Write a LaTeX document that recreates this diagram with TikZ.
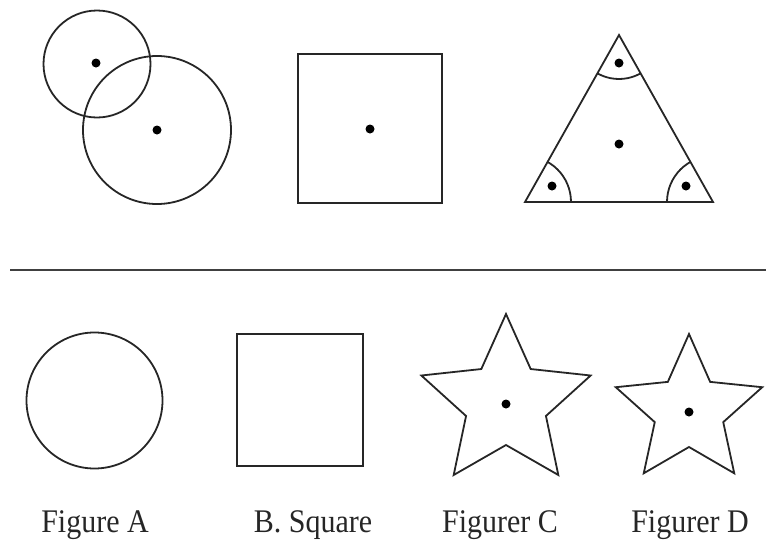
\documentclass[tikz,border=0pt]{standalone}
\usepackage{fontspec}
\setmainfont{Liberation Serif}
\newcommand{\tallertext}[1]{\scalebox{1}[1.1]{#1}}
\begin{document}
\begin{tikzpicture}[x=1pt,y=-1pt,
  outline/.style={draw=black!85,line width=1.8pt,line join=miter},
  dotmark/.style={fill=black},
  lbl/.style={font=\fontsize{30}{36}\selectfont,text=black!85,anchor=base,inner sep=0pt}]
\useasboundingbox (0,0) rectangle (766,544);
% ---- top row ----
\draw[outline] (97,64) circle (53.5pt);
\draw[outline] (157,130) circle (74pt);
\fill[dotmark] (96,63) circle (4.5pt);
\fill[dotmark] (157,130) circle (4.5pt);
\draw[outline] (298,54) rectangle (442,203);
\fill[dotmark] (370,129) circle (4.5pt);
\coordinate (TA) at (619,35);
\coordinate (TL) at (525,202);
\coordinate (TR) at (713,202);
\draw[outline] (TA) -- (TL) -- (TR) -- cycle;
\begin{scope}
  \clip (TA) -- (TL) -- (TR) -- cycle;
  \draw[outline] (TA) circle (44pt);
  \draw[outline] (TL) circle (46pt);
  \draw[outline] (TR) circle (46pt);
\end{scope}
\fill[dotmark] (619,63) circle (4.5pt);
\fill[dotmark] (619,144) circle (4.5pt);
\fill[dotmark] (552,186) circle (4.5pt);
\fill[dotmark] (686,186) circle (4.5pt);
% ---- separator ----
\draw[draw=black!75,line width=2.2pt] (10,270) -- (766,270);
% ---- bottom row ----
\draw[outline] (94.5,400.5) circle (68pt);
\draw[outline] (237,334) rectangle (363,466);
\begin{scope}[shift={(506,403)}]
  \draw[outline] (90:89pt) -- (126:42pt) -- (162:89pt) -- (198:42pt) -- (234:89pt)
    -- (270:42pt) -- (306:89pt) -- (342:42pt) -- (18:89pt) -- (54:42pt) -- cycle;
\end{scope}
\fill[dotmark] (506,404) circle (4.5pt);
\begin{scope}[shift={(689,411)}]
  \draw[outline] (90:77pt) -- (126:36pt) -- (162:77pt) -- (198:36pt) -- (234:77pt)
    -- (270:36pt) -- (306:77pt) -- (342:36pt) -- (18:77pt) -- (54:36pt) -- cycle;
\end{scope}
\fill[dotmark] (689,412) circle (4.5pt);
% ---- labels ----
\node[lbl] (la) at (95,532) {\tallertext{Figure A}};
\node[lbl] (lb) at (313,532) {\tallertext{B. Square}};
\node[lbl] (lc) at (500,532) {\tallertext{Figurer C}};
\node[lbl] (ld) at (690,532) {\tallertext{Figurer D}};
\end{tikzpicture}
\end{document}
